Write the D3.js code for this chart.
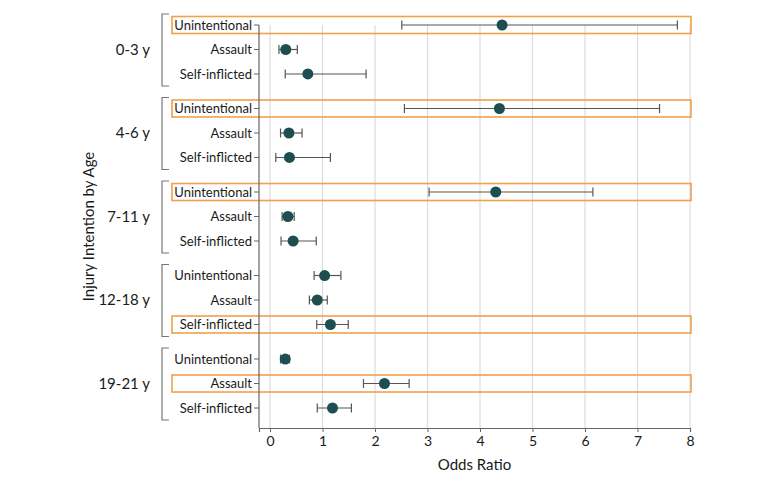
<!DOCTYPE html>
<html><head><meta charset="utf-8">
<script src="https://cdn.jsdelivr.net/npm/d3@7"></script>
<style>body{margin:0;background:#fff}svg{display:block}text{font-family:Lato,"Open Sans",sans-serif;fill:#1a1a1a}</style>
</head><body><svg id="c" width="780" height="483"></svg>
<script>
const groups = ["0-3 y","4-6 y","7-11 y","12-18 y","19-21 y"];
const intentions = ["Unintentional","Assault","Self-inflicted"];
// odds ratio, lower CI, upper CI per group (rows in intention order)
const oddsRatio = [[4.42,0.30,0.72],[4.37,0.36,0.37],[4.30,0.34,0.44],[1.04,0.90,1.15],[0.29,2.18,1.19]];
const ciLow    = [[2.51,0.17,0.29],[2.56,0.20,0.11],[3.03,0.23,0.21],[0.84,0.75,0.89],[0.20,1.78,0.90]];
const ciHigh   = [[7.76,0.52,1.83],[7.42,0.61,1.15],[6.15,0.46,0.88],[1.35,1.09,1.49],[0.37,2.65,1.55]];
const highlighted = [[1,0,0],[1,0,0],[1,0,0],[0,0,1],[0,1,0]];
const xTicks = [0,1,2,3,4,5,6,7,8];

const svg = d3.select("#c");
const pLeft = 259, pRight = 690, pTop = 25, pBottom = 428;
const x = d3.scaleLinear().domain([-0.21, 8]).range([pLeft, pRight]);
const groupStep = 3.41; // group spacing in row units
const slot = d3.scaleLinear().domain([0, 4*groupStep + 2]).range([25, 408]);
const yPos = (g, r) => slot(g*groupStep + r);

const rows = [];
groups.forEach((g,gi)=>intentions.forEach((it,ri)=>rows.push({g,gi,it,ri,or:oddsRatio[gi][ri],lo:ciLow[gi][ri],hi:ciHigh[gi][ri],hl:highlighted[gi][ri]})));

// gridlines
svg.append("g").selectAll("line").data(xTicks).join("line")
  .attr("x1",d=>x(d)).attr("x2",d=>x(d)).attr("y1",pTop).attr("y2",pBottom)
  .attr("stroke","#dcdcdc").attr("stroke-width",1.2);

// highlight boxes
svg.append("g").selectAll("rect").data(rows.filter(d=>d.hl)).join("rect")
  .attr("x",172).attr("y",d=>yPos(d.gi,d.ri)-8.5).attr("width",x(8)+1-172).attr("height",17)
  .attr("fill","none").attr("stroke","#f0a14c").attr("stroke-width",1.6);

// x axis
const xAxis = d3.axisBottom(x).tickValues(xTicks).tickSize(4).tickPadding(4);
const gx = svg.append("g").attr("transform",`translate(0,${pBottom})`).call(xAxis);
gx.select(".domain").attr("stroke","#666").attr("stroke-width",1.2);
gx.selectAll(".tick line").attr("stroke","#666");
gx.selectAll(".tick text").style("font-size","14px").attr("fill","#1a1a1a").style("font-family","Lato,sans-serif");

// y axis line
svg.append("line").attr("x1",pLeft).attr("x2",pLeft).attr("y1",pTop).attr("y2",pBottom).attr("stroke","#666").attr("stroke-width",1.2);
// y ticks and labels
const gy = svg.append("g");
gy.selectAll("line").data(rows).join("line")
  .attr("x1",pLeft-5).attr("x2",pLeft).attr("y1",d=>yPos(d.gi,d.ri)).attr("y2",d=>yPos(d.gi,d.ri)).attr("stroke","#666");
gy.selectAll("text").data(rows).join("text")
  .attr("x",pLeft-7).attr("y",d=>yPos(d.gi,d.ri)).attr("dy","0.35em").attr("text-anchor","end")
  .style("font-size","13px").text(d=>d.it);

// brackets and group labels
const br = svg.append("g");
groups.forEach((g,gi)=>{
  const y0 = yPos(gi,0)-11, y1 = yPos(gi,2)+12;
  br.append("path").attr("d",`M169,${y0}H162V${y1}H169`).attr("fill","none").attr("stroke","#777").attr("stroke-width",1.2);
  br.append("text").attr("x",150).attr("y",yPos(gi,1)).attr("dy","0.35em").attr("text-anchor","end").style("font-size","15px").text(g);
});

// error bars
const eb = svg.append("g").attr("stroke","#555").attr("stroke-width",1.2);
rows.forEach(d=>{
  const y = yPos(d.gi,d.ri);
  eb.append("line").attr("x1",x(d.lo)).attr("x2",x(d.hi)).attr("y1",y).attr("y2",y);
  eb.append("line").attr("x1",x(d.lo)).attr("x2",x(d.lo)).attr("y1",y-4.5).attr("y2",y+4.5);
  eb.append("line").attr("x1",x(d.hi)).attr("x2",x(d.hi)).attr("y1",y-4.5).attr("y2",y+4.5);
});
svg.append("g").selectAll("circle").data(rows).join("circle")
  .attr("cx",d=>x(d.or)).attr("cy",d=>yPos(d.gi,d.ri)).attr("r",5.5).attr("fill","#1e4f50");

// axis titles
svg.append("text").attr("x",(pLeft+pRight)/2).attr("y",470).attr("text-anchor","middle").style("font-size","15px").text("Odds Ratio");
svg.append("text").attr("transform",`translate(94,${(pTop+pBottom)/2}) rotate(-90)`).attr("text-anchor","middle").style("font-size","15px").text("Injury Intention by Age");
</script></body></html>
